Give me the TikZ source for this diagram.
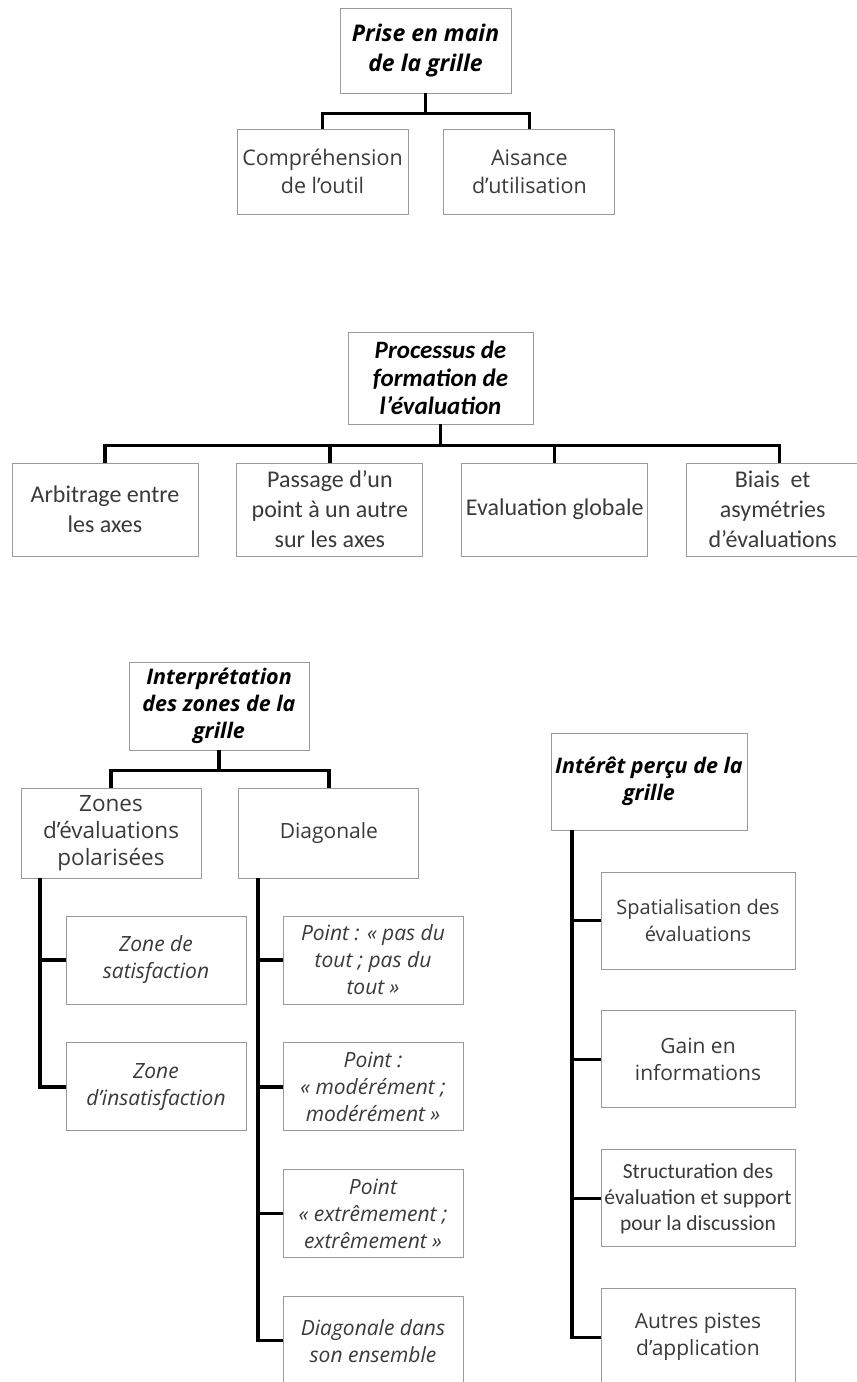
\documentclass[tikz,border=0pt]{standalone}
\usepackage{fontspec}
\setmainfont{Open Sans}
\newfontfamily\narrowfont{Carlito}
\usetikzlibrary{positioning}
\definecolor{boxgray}{HTML}{9A9A9A}
\definecolor{txtgray}{HTML}{3A3A3A}
\tikzset{
  box/.style={rectangle,draw=boxgray,line width=0.9pt,fill=white,align=center,inner sep=2pt,text=txtgray,font=\fontsize{21}{27}\selectfont},
  head/.style={box,text=black,font=\fontsize{21.5}{27}\selectfont\bfseries\itshape},
  leaf/.style={box,font=\fontsize{21}{27}\selectfont\itshape},
  narrow/.style={box,font=\narrowfont\fontsize{24}{30}\selectfont},
  line/.style={line width=3.2pt,line join=miter}
}

\begin{document}
\begin{tikzpicture}[x=1pt,y=-1pt]
\useasboundingbox (0,0) rectangle (857,1382);

% prise en main
\node[head, font=\fontsize{23}{30}\selectfont\bfseries\itshape, minimum width=171pt, minimum height=85pt] (prise) at (425.5,50.5) {Prise en main\\de la grille};
\node[box, font=\fontsize{21.5}{28}\selectfont, minimum width=171pt, minimum height=85pt] (comp) at (322.5,171.5) {Compréhension\\de l’outil};
\node[box, font=\fontsize{21.5}{28}\selectfont, minimum width=171pt, minimum height=85pt, right=35pt of comp] (ais) {Aisance\\d’utilisation};
\coordinate (pj) at ([yshift=-20pt]prise.south);
\draw[line] (prise.south) -- (pj);
\draw[line] (comp.north) |- (pj) -| (ais.north);

% processus
\node[head, font=\narrowfont\fontsize{25}{28}\selectfont\bfseries\itshape, minimum width=185pt, minimum height=92pt] (proc) at (440.5,378) {Processus de\\formation de\\l’évaluation};
\node[narrow, minimum width=186pt, minimum height=93pt] (arb) at (105,509.5) {Arbitrage entre\\les axes};
\node[narrow, minimum width=186pt, minimum height=93pt, right=38pt of arb] (pas) {Passage d’un\\point à un autre\\sur les axes};
\node[narrow, minimum width=186pt, minimum height=93pt, right=38pt of pas] (eva) {Evaluation globale};
\node[narrow, minimum width=172pt, minimum height=93pt, right=38pt of eva] (bia) {Biais~ et\\asymétries\\d’évaluations};
\coordinate (qj) at ([yshift=-21pt]proc.south);
\draw[line] (proc.south) -- (qj);
\draw[line] (arb.north) |- (qj) -| ([xshift=7pt]bia.north);
\draw[line] (pas.north) -- (pas.north |- qj);
\draw[line] (eva.north) -- (eva.north |- qj);

% interpretation
\node[head, minimum width=180pt, minimum height=88pt] (interp) at (219,706) {Interprétation\\des zones de la\\grille};
\node[box, font=\fontsize{22.5}{27}\selectfont, minimum width=180pt, minimum height=90pt] (zones) at (111,833) {Zones\\d’évaluations\\polarisées};
\node[box, minimum width=180pt, minimum height=90pt, right=37pt of zones] (diag) {Diagonale};
\coordinate (ij) at ([yshift=-20pt]interp.south);
\draw[line] (interp.south) -- (ij);
\draw[line] (zones.north) |- (ij) -| (diag.north);

\node[leaf, minimum width=180pt, minimum height=88pt] (sat) at (156,960) {Zone de\\satisfaction};
\node[leaf, minimum width=180pt, minimum height=88pt, below=38pt of sat] (insat) {Zone\\d’insatisfaction};
\coordinate (zs) at ([xshift=-71pt]zones.south);
\draw[line] (zs) |- (insat.west);
\draw[line] (sat.west) -- (sat.west -| zs);

\node[leaf, minimum width=180pt, minimum height=88pt] (pt1) at (373,960) {Point : « pas du\\tout ; pas du\\tout »};
\node[leaf, minimum width=180pt, minimum height=88pt, below=38pt of pt1] (pt2) {Point :\\« modérément ;\\modérément »};
\node[leaf, minimum width=180pt, minimum height=88pt, below=38pt of pt2] (pt3) {Point\\« extrêmement ;\\extrêmement »};
\node[leaf, minimum width=180pt, minimum height=88pt, below=38pt of pt3] (pt4) {Diagonale dans\\son ensemble};
\coordinate (ds) at ([xshift=-71pt]diag.south);
\draw[line] (ds) |- (pt4.west);
\draw[line] (pt1.west) -- (pt1.west -| ds);
\draw[line] (pt2.west) -- (pt2.west -| ds);
\draw[line] (pt3.west) -- (pt3.west -| ds);

% interet
\node[head, minimum width=196pt, minimum height=97pt] (inter) at (649,781.5) {Intérêt perçu de la\\grille};
\node[box, font=\fontsize{20}{27}\selectfont, minimum width=194pt, minimum height=97pt] (spa) at (698,920.5) {Spatialisation des\\évaluations};
\node[box, minimum width=194pt, minimum height=97pt, below=41pt of spa] (gain) {Gain en\\informations};
\node[narrow, font=\narrowfont\fontsize{21.5}{26}\selectfont, minimum width=194pt, minimum height=97pt, below=41pt of gain] (struc) {Structuration des\\évaluation et support\\pour la discussion};
\node[box, minimum width=194pt, minimum height=97pt, below=41pt of struc] (autr) {Autres pistes\\d’application};
\coordinate (is) at ([xshift=-77pt]inter.south);
\draw[line] (is) |- (autr.west);
\draw[line] (spa.west) -- (spa.west -| is);
\draw[line] (gain.west) -- (gain.west -| is);
\draw[line] (struc.west) -- (struc.west -| is);
\end{tikzpicture}
\end{document}
